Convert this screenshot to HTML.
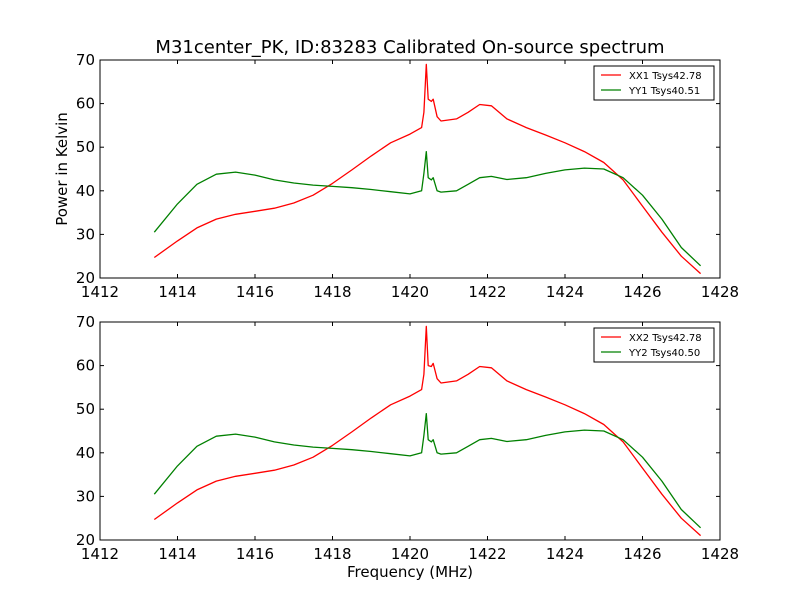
<!DOCTYPE html>
<html><head><meta charset="utf-8"><style>
html,body{margin:0;padding:0;background:#fff}
svg text{font-family:"DejaVu Sans","Liberation Sans",sans-serif;fill:#000}
</style></head><body>
<svg id="c" width="800" height="600" xmlns="http://www.w3.org/2000/svg">
<rect width="800" height="600" fill="#fff"/>
<text x="410" y="53" font-size="18" text-anchor="middle">M31center_PK, ID:83283 Calibrated On-source spectrum</text>
<text x="410" y="577" font-size="15" text-anchor="middle">Frequency (MHz)</text>
<text x="0" y="0" font-size="15" text-anchor="middle" transform="translate(67,169) rotate(-90)">Power in Kelvin</text>
</svg>
<script>
const freqs=[1413.4,1414,1414.5,1415,1415.5,1416,1416.5,1417,1417.5,1418,1418.5,1419,1419.5,1420,1420.3,1420.36,1420.42,1420.47,1420.55,1420.6,1420.7,1420.8,1421.2,1421.5,1421.8,1422.1,1422.5,1423,1423.5,1424,1424.5,1425,1425.5,1426,1426.5,1427,1427.5];
const xx1=[24.7,28.5,31.5,33.5,34.6,35.3,36,37.2,39,41.7,44.8,48,51,53,54.5,58,69,61,60.5,61,57,56,56.5,58,59.8,59.5,56.5,54.5,52.8,51,49,46.5,42.5,36.5,30.5,25,21];
const yy1=[30.5,37,41.5,43.8,44.3,43.6,42.5,41.8,41.3,41,40.7,40.3,39.8,39.3,40,44,49,43,42.5,43,40,39.7,40,41.5,43,43.3,42.6,43,44,44.8,45.2,45,43,39,33.5,27,22.8];
const xx2=[24.7,28.5,31.5,33.5,34.6,35.3,36,37.2,39,41.7,44.8,48,51,53,54.5,58,69,60,59.8,60.5,57,56,56.5,58,59.8,59.5,56.5,54.5,52.8,51,49,46.5,42.5,36.5,30.5,25,21];
const yy2=[30.5,37,41.5,43.8,44.3,43.6,42.5,41.8,41.3,41,40.7,40.3,39.8,39.3,40,44,49,43,42.5,43,40,39.7,40,41.5,43,43.3,42.6,43,44,44.8,45.2,45,43,39,33.5,27,22.8];
const xTicks=[1412,1414,1416,1418,1420,1422,1424,1426,1428];
const yTicks=[20,30,40,50,60,70];
const panels=[{top:60,a:xx1,b:yy1,la:"XX1 Tsys42.78",lb:"YY1 Tsys40.51",n:"top"},{top:322,a:xx2,b:yy2,la:"XX2 Tsys42.78",lb:"YY2 Tsys40.50",n:"bottom"}];
const svg=document.getElementById('c');const NS="http://www.w3.org/2000/svg";
const L=100,R=720,H=218;
function mk(t,at,p){const e=document.createElementNS(NS,t);for(const k in at)e.setAttribute(k,at[k]);(p||svg).appendChild(e);return e;}
const sx=f=>L+(f-1412)/(16)*(R-L);
panels.forEach(p=>{
 const sy=v=>p.top+H-(v-20)/50*H;
 const g=mk('g',{});
 
 
 [[p.a,'#ff0000','xx'],[p.b,'#008000','yy']].forEach(s=>{
  const l=mk('polyline',{points:freqs.map((f,i)=>sx(f).toFixed(1)+','+sy(s[0][i]).toFixed(1)).join(' '),fill:'none',stroke:s[1],'stroke-width':1.3,'stroke-linejoin':'round'},g);
  
  
 });
 const fr=mk('rect',{x:L,y:p.top,width:R-L,height:H,fill:'none',stroke:'#000','stroke-width':1},g);
 
 
 xTicks.forEach(t=>{const x=sx(t);
  mk('line',{x1:x,x2:x,y1:p.top+H,y2:p.top+H-4,stroke:'#000'},g);
  mk('line',{x1:x,x2:x,y1:p.top,y2:p.top+4,stroke:'#000'},g);
  const tx=mk('text',{x:x,y:p.top+H+19,'font-size':15,'text-anchor':'middle'},g);tx.textContent=t;
  
  
 });
 yTicks.forEach(t=>{const y=sy(t);
  mk('line',{x1:L,x2:L+4,y1:y,y2:y,stroke:'#000'},g);
  mk('line',{x1:R,x2:R-4,y1:y,y2:y,stroke:'#000'},g);
  const tx=mk('text',{x:L-5,y:y+5,'font-size':15,'text-anchor':'end'},g);tx.textContent=t;
  
  
 });
 const lg=mk('g',{},g);
 
 
 mk('rect',{x:594,y:p.top+6,width:120,height:34,fill:'#fff',stroke:'#000'},lg);
 [[p.la,'#ff0000',0],[p.lb,'#008000',1]].forEach(e=>{const y=p.top+15+e[2]*15;
  mk('line',{x1:601,x2:621,y1:y,y2:y,stroke:e[1],'stroke-width':1.3},lg);
  const tx=mk('text',{x:629,y:y+4,'font-size':10},lg);tx.textContent=e[0];
  
  
 });
});
</script>
</body></html>
